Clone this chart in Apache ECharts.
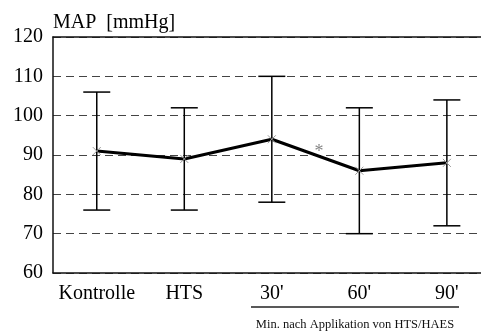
<!DOCTYPE html>
<html><head><meta charset="utf-8">
<script src="https://cdn.jsdelivr.net/npm/echarts@6/dist/echarts.min.js"></script>
<style>html,body{margin:0;padding:0;background:#fff}#c{width:481px;height:336px}</style>
</head><body><div id="c"></div>
<script>
var categories = ["Kontrolle", "HTS", "30'", "60'", "90'"];
var means = [91, 89, 94, 86, 88];
var lower = [76, 76, 78, 70, 72];
var upper = [106, 102, 110, 102, 104];
var yTicks = [60, 70, 80, 90, 100, 110, 120];
var annotation = [[2.54, 90.7, "*"]];
var titleText = "MAP  [mmHg]";
var captionText = "Min. nach Applikation von HTS/HAES";

var FONT = "Liberation Serif";
var chart = echarts.init(document.getElementById('c'), null, {renderer: 'canvas'});
var errData = categories.map(function (c, i) { return [i, lower[i], upper[i]]; });
var meanData = categories.map(function (c, i) { return [i, means[i]]; });
var X_MIN = -0.5, X_MAX = 4.39;

chart.setOption({
  animation: false,
  title: {text: titleText, left: 53, top: 13, padding: 0, textStyle: {fontFamily: FONT, fontSize: 20, fontWeight: 'normal', color: '#000'}},
  grid: {left: 53, top: 37, right: 0, bottom: 63},
  xAxis: [
    {type: 'value', min: X_MIN, max: X_MAX, interval: 0.5,
     axisLine: {show: true, onZero: false, lineStyle: {color: '#111', width: 1.5}}, axisTick: {show: false},
     splitLine: {show: false},
     axisLabel: {fontFamily: FONT, fontSize: 20, color: '#000', margin: 11, showMaxLabel: false, showMinLabel: false,
       formatter: function (v) { var i = Math.round(v); return Math.abs(v - i) < 1e-6 && categories[i] !== undefined ? categories[i] : ''; }}},
    {type: 'value', min: X_MIN, max: X_MAX, position: 'top',
     axisLine: {show: true, onZero: false, lineStyle: {color: '#111', width: 1.5}},
     axisTick: {show: false}, axisLabel: {show: false}, splitLine: {show: false}}
  ],
  yAxis: {type: 'value', min: yTicks[0], max: yTicks[yTicks.length - 1], interval: 10,
    axisLine: {show: true, onZero: false, lineStyle: {color: '#111', width: 1.5}}, axisTick: {show: false},
    axisLabel: {fontFamily: FONT, fontSize: 20, color: '#000', margin: 10},
    splitLine: {show: true, lineStyle: {color: '#444', type: [8, 5], width: 1}}},
  graphic: [
    {type: 'line', shape: {x1: 251, y1: 307, x2: 459, y2: 307}, style: {stroke: '#222', lineWidth: 1.5}},
    {type: 'text', x: 355, y: 325, style: {text: captionText, font: '12.5px "Liberation Serif"', fill: '#111', textAlign: 'center', textVerticalAlign: 'middle'}}
  ],
  series: [
    {type: 'custom', data: errData, z: 3,
     renderItem: function (params, api) {
       var lo = api.coord([api.value(0), api.value(1)]);
       var hi = api.coord([api.value(0), api.value(2)]);
       var w = 13.5;
       var st = {stroke: '#000', lineWidth: 1.5};
       return {type: 'group', children: [
         {type: 'line', shape: {x1: lo[0], y1: lo[1], x2: hi[0], y2: hi[1]}, style: st},
         {type: 'line', shape: {x1: lo[0] - w, y1: lo[1], x2: lo[0] + w, y2: lo[1]}, style: st},
         {type: 'line', shape: {x1: hi[0] - w, y1: hi[1], x2: hi[0] + w, y2: hi[1]}, style: st}
       ]};
     }},
    {type: 'line', data: meanData, z: 4,
     lineStyle: {color: '#000', width: 3},
     symbol: 'path://M0,0L10,10M10,0L0,10', symbolSize: 8,
     itemStyle: {color: 'none', borderColor: '#999', borderWidth: 1}},
    {type: 'scatter', data: annotation, symbolSize: 1, z: 5,
     itemStyle: {color: 'rgba(0,0,0,0)'},
     label: {show: true, position: 'inside', formatter: function (p) { return p.data[2]; },
       fontFamily: FONT, fontSize: 18, color: '#666'}}
  ]
});
</script></body></html>
